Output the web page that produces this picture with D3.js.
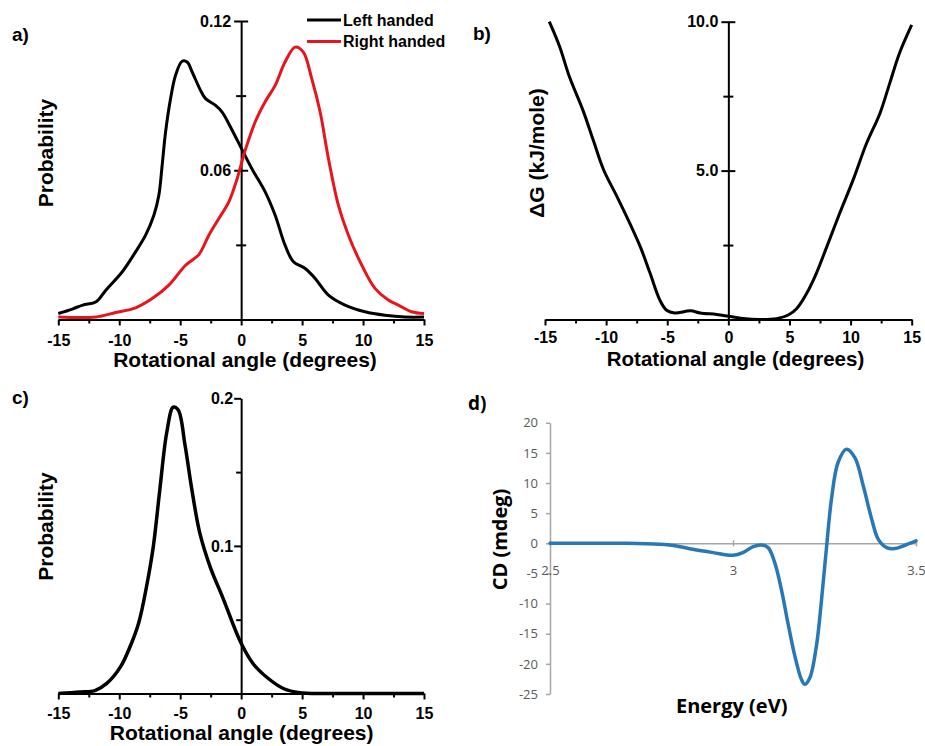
<!DOCTYPE html>
<html>
<head>
<meta charset="utf-8">
<script src="https://cdn.jsdelivr.net/npm/d3@7"></script>
<style>
  body { margin: 0; background: #fff; }
  svg { display: block; }
</style>
</head>
<body>
<script>
// ---- data ----

// panel a: probability vs rotational angle
var leftAngle = [-15, -13.85, -13, -11.9, -11.1, -9.75, -8.66, -7.84, -7.16, -6.75, -6.48, -6.2, -5.79, -5.38, -4.84, -4.43, -4.02, -3.33, -2.92, -2.1, -1.56, -0.74, 0, 0.87, 1.97, 2.79, 3.6, 4.29, 5.25, 6.07, 7.16, 8.52, 10.16, 11.8, 13.44, 15];
var leftProb = [0.0024, 0.0042, 0.0058, 0.0071, 0.0118, 0.0192, 0.0272, 0.0339, 0.0419, 0.050, 0.062, 0.0754, 0.0888, 0.0982, 0.1038, 0.1035, 0.0995, 0.0921, 0.0888, 0.0861, 0.0834, 0.0761, 0.069, 0.0607, 0.0513, 0.0419, 0.0299, 0.0232, 0.0205, 0.0165, 0.0098, 0.0058, 0.0031, 0.0017, 0.0010, 0.0010];
var rightAngle = [-15, -11.94, -10.3, -8.66, -7.3, -5.93, -4.56, -3.47, -2.65, -1.83, -1.01, -0.33, 0.33, 1.15, 1.97, 2.79, 3.6, 4.43, 5.1, 5.79, 6.48, 7.16, 7.98, 8.8, 9.9, 10.98, 12.07, 12.9, 13.98, 15];
var rightProb = [0.0010, 0.0010, 0.0028, 0.0047, 0.0084, 0.0138, 0.0218, 0.0261, 0.0339, 0.0406, 0.0473, 0.0566, 0.0680, 0.0794, 0.0875, 0.0941, 0.1035, 0.1095, 0.1075, 0.0968, 0.0834, 0.0647, 0.0459, 0.0339, 0.0218, 0.0125, 0.0078, 0.0058, 0.0031, 0.0024];

// panel b: free energy profile
var dgAngle = [-14.65, -13.8, -13.0, -11.9, -11.05, -10.2, -9.1, -8.05, -7.2, -6.4, -5.6, -5.05, -4.4, -3.1, -2.3, -0.95, 0, 1.2, 2.6, 3.95, 4.9, 5.6, 6.4, 7.2, 8.05, 9.1, 10.2, 11.3, 12.4, 13.2, 14.0, 15];
var dgValue = [10.0, 9.16, 8.15, 7.03, 6.02, 5.02, 4.12, 3.22, 2.44, 1.55, 0.65, 0.31, 0.22, 0.29, 0.22, 0.17, 0.11, 0.03, 0.0, 0.03, 0.15, 0.37, 0.87, 1.55, 2.44, 3.56, 4.68, 5.91, 6.92, 7.93, 8.94, 9.89];

// panel c: single distribution
var cAngle = [-15, -13.2, -12, -11, -9.9, -9.1, -8.4, -7.75, -7.2, -6.66, -6.1, -5.57, -5.16, -4.6, -4.06, -3.4, -2.55, -1.46, 0, 1.0, 2.1, 3.46, 4.8, 7.5, 15];
var cProb = [0, 0.001, 0.002, 0.007, 0.018, 0.032, 0.048, 0.073, 0.100, 0.139, 0.177, 0.194, 0.192, 0.168, 0.139, 0.109, 0.086, 0.064, 0.034, 0.020, 0.011, 0.0034, 0.0005, 0, 0];

// panel d: CD spectrum
var energy = [2.5, 2.62, 2.71, 2.8, 2.846, 2.89, 2.946, 3.0, 3.027, 3.055, 3.078, 3.096, 3.114, 3.132, 3.15, 3.169, 3.187, 3.196, 3.21, 3.228, 3.242, 3.255, 3.269, 3.287, 3.31, 3.333, 3.356, 3.379, 3.397, 3.42, 3.443, 3.47, 3.5];
var cdValue = [0, 0, 0, -0.17, -0.44, -1.0, -1.55, -2.0, -1.55, -0.55, -0.28, -0.72, -3.2, -7.6, -13.2, -18.7, -22.6, -23.4, -22.3, -17.0, -9.3, -1.0, 7.3, 13.4, 15.6, 14.2, 9.5, 4.0, 0.66, -0.72, -0.88, -0.33, 0.39];

var angleMajor = [-15, -10, -5, 0, 5, 10, 15];
var angleMinor = [-12.5, -7.5, -2.5, 2.5, 7.5, 12.5];
var energyTicks = [2.5, 3, 3.5];
var cdTicks = [20, 15, 10, 5, 0, -5, -10, -15, -20, -25];

var W = 925, H = 746;
var boldFont = "'Liberation Sans', Arial, sans-serif";
var excelFont = "'Open Sans', 'Noto Sans', sans-serif";

// plain hyphen for negative numbers, like the original
var plain = function(d) { return String(d); };

var svg = d3.select("body").append("svg")
  .attr("width", W)
  .attr("height", H);

svg.append("rect").attr("width", W).attr("height", H).attr("fill", "#fff");

function toPoints(xs, ys) {
  return xs.map(function(v, i) { return [v, ys[i]]; });
}

// Origin style panel: y axis through x = 0, ticks at bottom
function originPanel(cfg) {
  var x = d3.scaleLinear().domain([-15, 15]).range(cfg.xRange);
  var y = d3.scaleLinear().domain(cfg.yDomain).range(cfg.yRange);
  var g = svg.append("g");

  // x axis
  var xg = g.append("g")
    .attr("transform", "translate(0," + y(cfg.yDomain[0]) + ")")
    .call(d3.axisBottom(x).tickValues(angleMajor).tickFormat(plain).tickSize(6).tickSizeOuter(0));
  xg.select(".domain").attr("stroke-width", 2);
  xg.selectAll(".tick line").attr("stroke-width", 2);
  xg.selectAll("text")
    .attr("y", cfg.xLabelY - y(cfg.yDomain[0]))
    .attr("dy", null)
    .attr("font-family", boldFont).attr("font-weight", "bold").attr("font-size", 16).attr("fill", "#000");
  var xm = g.append("g")
    .attr("transform", "translate(0," + y(cfg.yDomain[0]) + ")")
    .call(d3.axisBottom(x).tickValues(angleMinor).tickFormat("").tickSize(4).tickSizeOuter(0));
  xm.select(".domain").remove();
  xm.selectAll(".tick line").attr("stroke-width", 2);

  // y axis at zero angle
  var yg = g.append("g")
    .attr("transform", "translate(" + x(0) + ",0)")
    .call(d3.axisLeft(y).tickValues(cfg.yMajor).tickFormat(cfg.yFormat).tickSize(7).tickPadding(cfg.yPad).tickSizeOuter(0));
  yg.select(".domain").attr("stroke-width", 2);
  yg.selectAll(".tick line").attr("stroke-width", 2).attr("x1", cfg.cross ? 7 : 0);
  yg.selectAll("text")
    .attr("font-family", boldFont).attr("font-weight", "bold").attr("font-size", 16).attr("fill", "#000");
  var ym = g.append("g")
    .attr("transform", "translate(" + x(0) + ",0)")
    .call(d3.axisLeft(y).tickValues(cfg.yMinor).tickFormat("").tickSize(5).tickSizeOuter(0));
  ym.select(".domain").remove();
  ym.selectAll(".tick line").attr("stroke-width", 2).attr("x1", cfg.cross ? 5 : 0);

  var line = d3.line()
    .x(function(d) { return x(d[0]); })
    .y(function(d) { return y(d[1]); })
    .curve(d3.curveCatmullRom.alpha(0.5));

  cfg.series.forEach(function(s) {
    g.append("path")
      .datum(toPoints(s.xs, s.ys))
      .attr("fill", "none")
      .attr("stroke", s.color)
      .attr("stroke-width", s.width)
      .attr("stroke-linejoin", "round")
      .attr("d", line);
  });

  // titles
  g.append("text")
    .attr("x", cfg.xTitle[0]).attr("y", cfg.xTitle[1])
    .attr("text-anchor", "middle")
    .attr("font-family", boldFont).attr("font-weight", "bold").attr("font-size", cfg.xTitleSize || 21)
    .text("Rotational angle (degrees)");
  g.append("text")
    .attr("transform", "translate(" + cfg.yTitle[0] + "," + cfg.yTitle[1] + ") rotate(-90)")
    .attr("text-anchor", "middle")
    .attr("font-family", boldFont).attr("font-weight", "bold").attr("font-size", 21)
    .text(cfg.yText);
  g.append("text")
    .attr("x", cfg.tag[0]).attr("y", cfg.tag[1])
    .attr("font-family", boldFont).attr("font-weight", "bold").attr("font-size", 19)
    .text(cfg.tagText);

  return {x: x, y: y, g: g};
}

// a)
originPanel({
  xRange: [58.3, 424], yDomain: [0, 0.12], yRange: [319.5, 21],
  yMajor: [0.06, 0.12], yMinor: [0.03, 0.09], yFormat: d3.format(".2f"), yPad: 3, cross: true,
  xLabelY: 346, xTitle: [245, 367], yTitle: [53, 153], yText: "Probability",
  tag: [12, 41], tagText: "a)",
  series: [
    {xs: leftAngle, ys: leftProb, color: "#000", width: 3},
    {xs: rightAngle, ys: rightProb, color: "#e8141b", width: 3}
  ]
});

// legend for a)
var legendItems = [
  {label: "Left handed", color: "#000"},
  {label: "Right handed", color: "#e8141b"}
];
var lg = svg.append("g").attr("transform", "translate(307,20)");
lg.selectAll("line").data(legendItems).enter().append("line")
  .attr("x1", 0).attr("x2", 34)
  .attr("y1", function(d, i) { return i * 21.5; })
  .attr("y2", function(d, i) { return i * 21.5; })
  .attr("stroke", function(d) { return d.color; })
  .attr("stroke-width", 3);
lg.selectAll("text").data(legendItems).enter().append("text")
  .attr("x", 36)
  .attr("y", function(d, i) { return i * 21.5 + 5.5; })
  .attr("font-family", boldFont).attr("font-weight", "bold").attr("font-size", 16)
  .text(function(d) { return d.label; });

// b)
originPanel({
  xRange: [545, 911.7], yDomain: [0, 10], yRange: [319.5, 21.7],
  yMajor: [5, 10], yMinor: [2.5, 7.5], yFormat: d3.format(".1f"), yPad: 3, cross: true,
  xLabelY: 343, xTitle: [735.5, 366], xTitleSize: 20.5, yTitle: [544, 153], yText: "\u0394G (kJ/mole)",
  tag: [473, 40], tagText: "b)",
  series: [
    {xs: dgAngle, ys: dgValue, color: "#000", width: 3}
  ]
});

// c)
originPanel({
  xRange: [58.3, 424], yDomain: [0, 0.2], yRange: [693.5, 398.3],
  yMajor: [0.1, 0.2], yMinor: [0.05, 0.15], yFormat: d3.format(".1f"), yPad: 1, cross: false,
  xLabelY: 719, xTitle: [241.7, 740], yTitle: [53, 526.5], yText: "Probability",
  tag: [12, 404], tagText: "c)",
  series: [
    {xs: cAngle, ys: cProb, color: "#000", width: 3.5}
  ]
});

// d) Excel style CD spectrum
var xd = d3.scaleLinear().domain([2.5, 3.5]).range([550, 916]);
var yd = d3.scaleLinear().domain([-25, 20]).range([694, 422.7]);
var gd = svg.append("g");

var ydAxis = gd.append("g")
  .attr("transform", "translate(" + xd(2.5) + ",0)")
  .call(d3.axisLeft(yd).tickValues(cdTicks).tickFormat(plain).tickSize(4).tickPadding(8).tickSizeOuter(0));
ydAxis.selectAll(".domain, .tick line").attr("stroke", "#a6a6a6").attr("stroke-width", 1.5);
ydAxis.selectAll("text")
  .attr("font-family", excelFont).attr("font-size", 13).attr("fill", "#595959");

var xdAxis = gd.append("g")
  .attr("transform", "translate(0," + yd(0) + ")")
  .call(d3.axisBottom(xd).tickValues(energyTicks).tickFormat(plain).tickSize(3).tickSizeOuter(0));
xdAxis.selectAll(".domain, .tick line").attr("stroke", "#a6a6a6").attr("stroke-width", 1.5);
xdAxis.selectAll(".tick line").attr("y1", -3);
xdAxis.selectAll("text")
  .attr("y", 23).attr("font-family", excelFont).attr("font-size", 13).attr("fill", "#595959");

var lineD = d3.line()
  .x(function(d) { return xd(d[0]); })
  .y(function(d) { return yd(d[1]); })
  .curve(d3.curveCatmullRom.alpha(0.5));

gd.append("path")
  .datum(toPoints(energy, cdValue))
  .attr("fill", "none")
  .attr("stroke", "#2878b8")
  .attr("stroke-width", 3.5)
  .attr("stroke-linejoin", "round")
  .attr("stroke-linecap", "round")
  .attr("d", lineD);

gd.append("text")
  .attr("x", 731.7).attr("y", 713)
  .attr("text-anchor", "middle")
  .attr("font-family", excelFont).attr("font-weight", "bold").attr("font-size", 20)
  .text("Energy (eV)");
gd.append("text")
  .attr("transform", "translate(507,539.5) rotate(-90)")
  .attr("text-anchor", "middle")
  .attr("font-family", excelFont).attr("font-weight", "bold").attr("font-size", 20)
  .text("CD (mdeg)");
gd.append("text")
  .attr("x", 468).attr("y", 410)
  .attr("font-family", excelFont).attr("font-weight", "bold").attr("font-size", 19)
  .text("d)");
</script>
</body>
</html>
